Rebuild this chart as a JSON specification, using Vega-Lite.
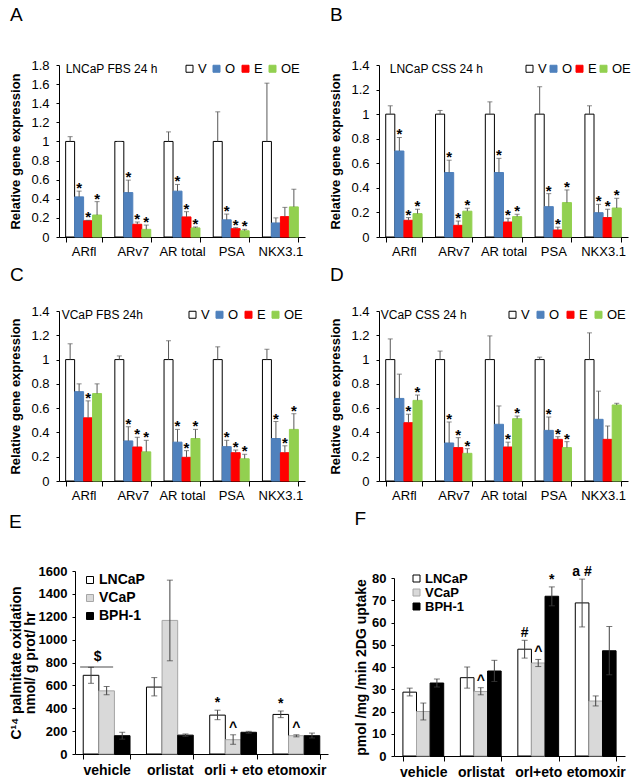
{
  "$schema": "https://vega.github.io/schema/vega-lite/v6.json",
  "background": "white",
  "padding": {"left": 9, "top": 6, "right": 2, "bottom": 2},
  "config": {
    "font": "Liberation Sans",
    "view": {"stroke": null},
    "axis": {"domainColor": "#000", "tickColor": "#000", "labelColor": "#000", "titleColor": "#000", "grid": false, "labelFont": "Liberation Sans", "titleFont": "Liberation Sans", "labelFontSize": 13, "titleFontSize": 13, "titleFontWeight": "bold", "labelOverlap": false},
    "axisX": {"labelAngle": 0, "tickBand": "extent", "tickSize": 5, "labelPadding": 3, "title": null},
    "axisY": {"tickSize": 3, "labelPadding": 7, "titlePadding": 8},
    "title": {"anchor": "start", "fontSize": 19, "fontWeight": "normal", "frame": "bounds", "color": "#000", "font": "Liberation Sans"},
    "legend": {"orient": "none", "symbolType": "square", "labelColor": "#000", "padding": 0, "symbolStrokeWidth": 1, "labelFont": "Liberation Sans"},
    "text": {"color": "#000"}
  },
  "datasets": {
    "A": [
      {"g":"ARfl","s":"V","v":1,"hi":1.05,"sig":""},
      {"g":"ARfl","s":"O","v":0.42,"hi":0.48,"sig":"*"},
      {"g":"ARfl","s":"E","v":0.17,"hi":0.175,"sig":"*"},
      {"g":"ARfl","s":"OE","v":0.23,"hi":0.37,"sig":"*"},
      {"g":"ARv7","s":"V","v":1,"hi":1.0,"sig":""},
      {"g":"ARv7","s":"O","v":0.465,"hi":0.595,"sig":"*"},
      {"g":"ARv7","s":"E","v":0.133,"hi":0.157,"sig":"*"},
      {"g":"ARv7","s":"OE","v":0.08,"hi":0.125,"sig":"*"},
      {"g":"AR total","s":"V","v":1,"hi":1.1,"sig":""},
      {"g":"AR total","s":"O","v":0.48,"hi":0.55,"sig":"*"},
      {"g":"AR total","s":"E","v":0.21,"hi":0.265,"sig":"*"},
      {"g":"AR total","s":"OE","v":0.095,"hi":0.105,"sig":"*"},
      {"g":"PSA","s":"V","v":1,"hi":1.31,"sig":""},
      {"g":"PSA","s":"O","v":0.18,"hi":0.24,"sig":"*"},
      {"g":"PSA","s":"E","v":0.087,"hi":0.098,"sig":"*"},
      {"g":"PSA","s":"OE","v":0.065,"hi":0.08,"sig":"*"},
      {"g":"NKX3.1","s":"V","v":1,"hi":1.61,"sig":""},
      {"g":"NKX3.1","s":"O","v":0.147,"hi":0.2,"sig":""},
      {"g":"NKX3.1","s":"E","v":0.213,"hi":0.31,"sig":""},
      {"g":"NKX3.1","s":"OE","v":0.315,"hi":0.5,"sig":""}
    ],
    "B": [
      {"g":"ARfl","s":"V","v":1,"hi":1.068,"sig":""},
      {"g":"ARfl","s":"O","v":0.7,"hi":0.81,"sig":"*"},
      {"g":"ARfl","s":"E","v":0.136,"hi":0.158,"sig":"*"},
      {"g":"ARfl","s":"OE","v":0.19,"hi":0.226,"sig":"*"},
      {"g":"ARv7","s":"V","v":1,"hi":1.03,"sig":""},
      {"g":"ARv7","s":"O","v":0.525,"hi":0.625,"sig":"*"},
      {"g":"ARv7","s":"E","v":0.095,"hi":0.13,"sig":"*"},
      {"g":"ARv7","s":"OE","v":0.21,"hi":0.234,"sig":"*"},
      {"g":"AR total","s":"V","v":1,"hi":1.1,"sig":""},
      {"g":"AR total","s":"O","v":0.525,"hi":0.64,"sig":"*"},
      {"g":"AR total","s":"E","v":0.122,"hi":0.152,"sig":"*"},
      {"g":"AR total","s":"OE","v":0.166,"hi":0.185,"sig":"*"},
      {"g":"PSA","s":"V","v":1,"hi":1.223,"sig":""},
      {"g":"PSA","s":"O","v":0.247,"hi":0.353,"sig":"*"},
      {"g":"PSA","s":"E","v":0.057,"hi":0.08,"sig":"*"},
      {"g":"PSA","s":"OE","v":0.28,"hi":0.383,"sig":"*"},
      {"g":"NKX3.1","s":"V","v":1,"hi":1.068,"sig":""},
      {"g":"NKX3.1","s":"O","v":0.198,"hi":0.266,"sig":"*"},
      {"g":"NKX3.1","s":"E","v":0.158,"hi":0.226,"sig":"*"},
      {"g":"NKX3.1","s":"OE","v":0.236,"hi":0.315,"sig":"*"}
    ],
    "C": [
      {"g":"ARfl","s":"V","v":1,"hi":1.13,"sig":""},
      {"g":"ARfl","s":"O","v":0.736,"hi":0.8,"sig":""},
      {"g":"ARfl","s":"E","v":0.52,"hi":0.66,"sig":"*"},
      {"g":"ARfl","s":"OE","v":0.72,"hi":0.8,"sig":""},
      {"g":"ARv7","s":"V","v":1,"hi":1.03,"sig":""},
      {"g":"ARv7","s":"O","v":0.33,"hi":0.447,"sig":"*"},
      {"g":"ARv7","s":"E","v":0.28,"hi":0.36,"sig":"*"},
      {"g":"ARv7","s":"OE","v":0.24,"hi":0.335,"sig":"*"},
      {"g":"AR total","s":"V","v":1,"hi":1.155,"sig":""},
      {"g":"AR total","s":"O","v":0.32,"hi":0.425,"sig":"*"},
      {"g":"AR total","s":"E","v":0.195,"hi":0.25,"sig":"*"},
      {"g":"AR total","s":"OE","v":0.35,"hi":0.425,"sig":"*"},
      {"g":"PSA","s":"V","v":1,"hi":1.105,"sig":""},
      {"g":"PSA","s":"O","v":0.283,"hi":0.335,"sig":"*"},
      {"g":"PSA","s":"E","v":0.233,"hi":0.255,"sig":"*"},
      {"g":"PSA","s":"OE","v":0.183,"hi":0.22,"sig":"*"},
      {"g":"NKX3.1","s":"V","v":1,"hi":1.085,"sig":""},
      {"g":"NKX3.1","s":"O","v":0.35,"hi":0.49,"sig":"*"},
      {"g":"NKX3.1","s":"E","v":0.233,"hi":0.29,"sig":"*"},
      {"g":"NKX3.1","s":"OE","v":0.425,"hi":0.554,"sig":"*"}
    ],
    "D": [
      {"g":"ARfl","s":"V","v":1,"hi":1.17,"sig":""},
      {"g":"ARfl","s":"O","v":0.68,"hi":0.88,"sig":""},
      {"g":"ARfl","s":"E","v":0.48,"hi":0.55,"sig":"*"},
      {"g":"ARfl","s":"OE","v":0.664,"hi":0.708,"sig":"*"},
      {"g":"ARv7","s":"V","v":1,"hi":1.07,"sig":""},
      {"g":"ARv7","s":"O","v":0.313,"hi":0.486,"sig":"*"},
      {"g":"ARv7","s":"E","v":0.275,"hi":0.357,"sig":"*"},
      {"g":"ARv7","s":"OE","v":0.228,"hi":0.266,"sig":"*"},
      {"g":"AR total","s":"V","v":1,"hi":1.195,"sig":""},
      {"g":"AR total","s":"O","v":0.467,"hi":0.618,"sig":""},
      {"g":"AR total","s":"E","v":0.28,"hi":0.32,"sig":"*"},
      {"g":"AR total","s":"OE","v":0.513,"hi":0.535,"sig":"*"},
      {"g":"PSA","s":"V","v":1,"hi":1.02,"sig":""},
      {"g":"PSA","s":"O","v":0.417,"hi":0.527,"sig":"*"},
      {"g":"PSA","s":"E","v":0.343,"hi":0.365,"sig":"*"},
      {"g":"PSA","s":"OE","v":0.275,"hi":0.324,"sig":"*"},
      {"g":"NKX3.1","s":"V","v":1,"hi":1.22,"sig":""},
      {"g":"NKX3.1","s":"O","v":0.508,"hi":0.74,"sig":""},
      {"g":"NKX3.1","s":"E","v":0.343,"hi":0.453,"sig":""},
      {"g":"NKX3.1","s":"OE","v":0.626,"hi":0.64,"sig":""}
    ],
    "E": [
      {"g":"vehicle","s":"LNCaP","v":688,"lo":618,"hi":758,"sig":""},
      {"g":"vehicle","s":"VCaP","v":552,"lo":518,"hi":590,"sig":""},
      {"g":"vehicle","s":"BPH-1","v":160,"lo":130,"hi":190,"sig":""},
      {"g":"orlistat","s":"LNCaP","v":585,"lo":508,"hi":668,"sig":""},
      {"g":"orlistat","s":"VCaP","v":1168,"lo":815,"hi":1520,"sig":""},
      {"g":"orlistat","s":"BPH-1","v":165,"lo":155,"hi":175,"sig":""},
      {"g":"orli + eto","s":"LNCaP","v":340,"lo":300,"hi":383,"sig":"*"},
      {"g":"orli + eto","s":"VCaP","v":125,"lo":85,"hi":168,"sig":"^"},
      {"g":"orli + eto","s":"BPH-1","v":190,"lo":182,"hi":198,"sig":""},
      {"g":"etomoxir","s":"LNCaP","v":346,"lo":318,"hi":376,"sig":"*"},
      {"g":"etomoxir","s":"VCaP","v":160,"lo":150,"hi":168,"sig":"^"},
      {"g":"etomoxir","s":"BPH-1","v":160,"lo":140,"hi":183,"sig":""}
    ],
    "Esig": [
      {"g":"vehicle","v":760,"t":"$"}
    ],
    "F": [
      {"g":"vehicle","s":"LNCaP","v":28.7,"lo":27,"hi":30.5,"sig":""},
      {"g":"vehicle","s":"VCaP","v":20,"lo":16.2,"hi":23.8,"sig":""},
      {"g":"vehicle","s":"BPH-1","v":32.8,"lo":31,"hi":34.6,"sig":""},
      {"g":"orlistat","s":"LNCaP","v":35.2,"lo":30.5,"hi":40,"sig":""},
      {"g":"orlistat","s":"VCaP","v":29,"lo":27.5,"hi":30.7,"sig":"^"},
      {"g":"orlistat","s":"BPH-1","v":38.2,"lo":33.5,"hi":43,"sig":""},
      {"g":"orl+eto","s":"LNCaP","v":48,"lo":44,"hi":52,"sig":"#"},
      {"g":"orl+eto","s":"VCaP","v":41.8,"lo":40.2,"hi":43.4,"sig":"^"},
      {"g":"orl+eto","s":"BPH-1","v":71.8,"lo":67.5,"hi":76,"sig":"*"},
      {"g":"etomoxir","s":"LNCaP","v":68.8,"lo":58,"hi":79.5,"sig":"a #"},
      {"g":"etomoxir","s":"VCaP","v":24.7,"lo":22.5,"hi":27,"sig":""},
      {"g":"etomoxir","s":"BPH-1","v":47.3,"lo":36.5,"hi":58.2,"sig":""}
    ]
  },
  "resolve": {"scale": {"x": "independent", "y": "independent", "xOffset": "independent", "fill": "independent", "stroke": "independent"}, "legend": {"fill": "independent", "stroke": "independent"}, "axis": {"x": "independent", "y": "independent"}},
  "columns": 2,
  "align": "each",
  "spacing": {"row": 8, "column": 1},
  "concat": [
    {
      "width": 246, "height": 172,
      "title": {"text": "A", "offset": 34},
      "layer": [
        {
          "data": {"name": "A"},
          "encoding": {
            "x": {"field": "g", "type": "nominal", "sort": ["ARfl","ARv7","AR total","PSA","NKX3.1"], "scale": {"paddingInner": 0.27, "paddingOuter": 0.135}},
            "xOffset": {"field": "s", "sort": ["V","O","E","OE"], "scale": {"paddingInner": 0, "paddingOuter": 0}}
          },
          "layer": [
            {"mark": {"type": "bar", "strokeWidth": 1}, "encoding": {
              "y": {"field": "v", "type": "quantitative", "scale": {"domain": [0, 1.8], "nice": false}, "title": "Relative gene expression", "axis": {"values": [0,0.2,0.4,0.6,0.8,1,1.2,1.4,1.6,1.8], "format": "~g", "labelOverlap": false}},
              "fill": {"field": "s", "type": "nominal", "scale": {"domain": ["V","O","E","OE"], "range": ["#ffffff","#4F81BD","#FF0000","#92D050"]}, "legend": {"title": null, "orient": "none", "direction": "horizontal", "legendX": 124, "legendY": -3, "symbolSize": 49, "labelFontSize": 13, "columnPadding": 3, "labelOffset": 2}},
              "stroke": {"field": "s", "type": "nominal", "scale": {"domain": ["V","O","E","OE"], "range": ["#000000","#4F81BD","#FF0000","#92D050"]}, "legend": {"title": null, "orient": "none", "direction": "horizontal", "legendX": 124, "legendY": -3, "symbolSize": 49, "labelFontSize": 13, "columnPadding": 3, "labelOffset": 2}}
            }},
            {"mark": {"type": "rule", "color": "#595959"}, "encoding": {"y": {"field": "v", "type": "quantitative", "title": "Relative gene expression", "axis": {"values": [0,0.2,0.4,0.6,0.8,1,1.2,1.4,1.6,1.8], "format": "~g", "labelOverlap": false}}, "y2": {"field": "hi"}}},
            {"mark": {"type": "tick", "color": "#595959", "thickness": 1, "size": 5}, "encoding": {"y": {"field": "hi", "type": "quantitative", "title": "Relative gene expression", "axis": {"values": [0,0.2,0.4,0.6,0.8,1,1.2,1.4,1.6,1.8], "format": "~g", "labelOverlap": false}}}},
            {"transform": [{"filter": "datum.sig != ''"}], "mark": {"type": "text", "fontSize": 15, "fontWeight": "bold", "baseline": "alphabetic", "dy": 2}, "encoding": {"y": {"field": "hi", "type": "quantitative", "title": "Relative gene expression", "axis": {"values": [0,0.2,0.4,0.6,0.8,1,1.2,1.4,1.6,1.8], "format": "~g", "labelOverlap": false}}, "text": {"field": "sig"}}}
          ]
        },
        {
          "data": {"values": [{"t": "LNCaP FBS 24 h"}]},
          "mark": {"type": "text", "align": "left", "baseline": "middle", "fontSize": 12, "dy": 4},
          "encoding": {"x": {"datum": "ARfl", "bandPosition": 0}, "y": {"datum": 1.8, "type": "quantitative", "title": "Relative gene expression", "axis": {"values": [0,0.2,0.4,0.6,0.8,1,1.2,1.4,1.6,1.8], "format": "~g", "labelOverlap": false}}, "text": {"field": "t"}}
        }
      ]
    },
    {
      "width": 249, "height": 172,
      "title": {"text": "B", "offset": 34},
      "layer": [
        {
          "data": {"name": "B"},
          "encoding": {
            "x": {"field": "g", "type": "nominal", "sort": ["ARfl","ARv7","AR total","PSA","NKX3.1"], "scale": {"paddingInner": 0.27, "paddingOuter": 0.135}},
            "xOffset": {"field": "s", "sort": ["V","O","E","OE"], "scale": {"paddingInner": 0, "paddingOuter": 0}}
          },
          "layer": [
            {"mark": {"type": "bar", "strokeWidth": 1}, "encoding": {
              "y": {"field": "v", "type": "quantitative", "scale": {"domain": [0, 1.4], "nice": false}, "title": "Relative gene expression", "axis": {"values": [0,0.2,0.4,0.6,0.8,1,1.2,1.4], "format": "~g", "labelOverlap": false}},
              "fill": {"field": "s", "type": "nominal", "scale": {"domain": ["V","O","E","OE"], "range": ["#ffffff","#4F81BD","#FF0000","#92D050"]}, "legend": {"title": null, "orient": "none", "direction": "horizontal", "legendX": 144, "legendY": -3, "symbolSize": 49, "labelFontSize": 13, "columnPadding": 0, "labelOffset": 2}},
              "stroke": {"field": "s", "type": "nominal", "scale": {"domain": ["V","O","E","OE"], "range": ["#000000","#4F81BD","#FF0000","#92D050"]}, "legend": {"title": null, "orient": "none", "direction": "horizontal", "legendX": 144, "legendY": -3, "symbolSize": 49, "labelFontSize": 13, "columnPadding": 0, "labelOffset": 2}}
            }},
            {"mark": {"type": "rule", "color": "#595959"}, "encoding": {"y": {"field": "v", "type": "quantitative", "title": "Relative gene expression", "axis": {"values": [0,0.2,0.4,0.6,0.8,1,1.2,1.4], "format": "~g", "labelOverlap": false}}, "y2": {"field": "hi"}}},
            {"mark": {"type": "tick", "color": "#595959", "thickness": 1, "size": 5}, "encoding": {"y": {"field": "hi", "type": "quantitative", "title": "Relative gene expression", "axis": {"values": [0,0.2,0.4,0.6,0.8,1,1.2,1.4], "format": "~g", "labelOverlap": false}}}},
            {"transform": [{"filter": "datum.sig != ''"}], "mark": {"type": "text", "fontSize": 15, "fontWeight": "bold", "baseline": "alphabetic", "dy": 2}, "encoding": {"y": {"field": "hi", "type": "quantitative", "title": "Relative gene expression", "axis": {"values": [0,0.2,0.4,0.6,0.8,1,1.2,1.4], "format": "~g", "labelOverlap": false}}, "text": {"field": "sig"}}}
          ]
        },
        {
          "data": {"values": [{"t": "LNCaP  CSS 24 h"}]},
          "mark": {"type": "text", "align": "left", "baseline": "middle", "fontSize": 12, "dy": 4, "dx": 4},
          "encoding": {"x": {"datum": "ARfl", "bandPosition": 0}, "y": {"datum": 1.4, "type": "quantitative", "title": "Relative gene expression", "axis": {"values": [0,0.2,0.4,0.6,0.8,1,1.2,1.4], "format": "~g", "labelOverlap": false}}, "text": {"field": "t"}}
        }
      ]
    },
    {
      "width": 246, "height": 170,
      "title": {"text": "C", "offset": 20},
      "layer": [
        {
          "data": {"name": "C"},
          "encoding": {
            "x": {"field": "g", "type": "nominal", "sort": ["ARfl","ARv7","AR total","PSA","NKX3.1"], "scale": {"paddingInner": 0.27, "paddingOuter": 0.135}},
            "xOffset": {"field": "s", "sort": ["V","O","E","OE"], "scale": {"paddingInner": 0, "paddingOuter": 0}}
          },
          "layer": [
            {"mark": {"type": "bar", "strokeWidth": 1}, "encoding": {
              "y": {"field": "v", "type": "quantitative", "scale": {"domain": [0, 1.4], "nice": false}, "title": "Relative gene expression", "axis": {"values": [0,0.2,0.4,0.6,0.8,1,1.2,1.4], "format": "~g", "labelOverlap": false}},
              "fill": {"field": "s", "type": "nominal", "scale": {"domain": ["V","O","E","OE"], "range": ["#ffffff","#4F81BD","#FF0000","#92D050"]}, "legend": {"title": null, "orient": "none", "direction": "horizontal", "legendX": 127, "legendY": -3, "symbolSize": 49, "labelFontSize": 13, "columnPadding": 3, "labelOffset": 2}},
              "stroke": {"field": "s", "type": "nominal", "scale": {"domain": ["V","O","E","OE"], "range": ["#000000","#4F81BD","#FF0000","#92D050"]}, "legend": {"title": null, "orient": "none", "direction": "horizontal", "legendX": 127, "legendY": -3, "symbolSize": 49, "labelFontSize": 13, "columnPadding": 3, "labelOffset": 2}}
            }},
            {"mark": {"type": "rule", "color": "#595959"}, "encoding": {"y": {"field": "v", "type": "quantitative", "title": "Relative gene expression", "axis": {"values": [0,0.2,0.4,0.6,0.8,1,1.2,1.4], "format": "~g", "labelOverlap": false}}, "y2": {"field": "hi"}}},
            {"mark": {"type": "tick", "color": "#595959", "thickness": 1, "size": 5}, "encoding": {"y": {"field": "hi", "type": "quantitative", "title": "Relative gene expression", "axis": {"values": [0,0.2,0.4,0.6,0.8,1,1.2,1.4], "format": "~g", "labelOverlap": false}}}},
            {"transform": [{"filter": "datum.sig != ''"}], "mark": {"type": "text", "fontSize": 15, "fontWeight": "bold", "baseline": "alphabetic", "dy": 2}, "encoding": {"y": {"field": "hi", "type": "quantitative", "title": "Relative gene expression", "axis": {"values": [0,0.2,0.4,0.6,0.8,1,1.2,1.4], "format": "~g", "labelOverlap": false}}, "text": {"field": "sig"}}}
          ]
        },
        {
          "data": {"values": [{"t": "VCaP FBS 24h"}]},
          "mark": {"type": "text", "align": "left", "baseline": "middle", "fontSize": 12, "dy": 4, "dx": -4},
          "encoding": {"x": {"datum": "ARfl", "bandPosition": 0}, "y": {"datum": 1.4, "type": "quantitative", "title": "Relative gene expression", "axis": {"values": [0,0.2,0.4,0.6,0.8,1,1.2,1.4], "format": "~g", "labelOverlap": false}}, "text": {"field": "t"}}
        }
      ]
    },
    {
      "width": 249, "height": 170,
      "title": {"text": "D", "offset": 20},
      "layer": [
        {
          "data": {"name": "D"},
          "encoding": {
            "x": {"field": "g", "type": "nominal", "sort": ["ARfl","ARv7","AR total","PSA","NKX3.1"], "scale": {"paddingInner": 0.27, "paddingOuter": 0.135}},
            "xOffset": {"field": "s", "sort": ["V","O","E","OE"], "scale": {"paddingInner": 0, "paddingOuter": 0}}
          },
          "layer": [
            {"mark": {"type": "bar", "strokeWidth": 1}, "encoding": {
              "y": {"field": "v", "type": "quantitative", "scale": {"domain": [0, 1.4], "nice": false}, "title": "Relative gene expression", "axis": {"values": [0,0.2,0.4,0.6,0.8,1,1.2,1.4], "format": "~g", "labelOverlap": false}},
              "fill": {"field": "s", "type": "nominal", "scale": {"domain": ["V","O","E","OE"], "range": ["#ffffff","#4F81BD","#FF0000","#92D050"]}, "legend": {"title": null, "orient": "none", "direction": "horizontal", "legendX": 127, "legendY": -3, "symbolSize": 49, "labelFontSize": 13, "columnPadding": 4, "labelOffset": 2}},
              "stroke": {"field": "s", "type": "nominal", "scale": {"domain": ["V","O","E","OE"], "range": ["#000000","#4F81BD","#FF0000","#92D050"]}, "legend": {"title": null, "orient": "none", "direction": "horizontal", "legendX": 127, "legendY": -3, "symbolSize": 49, "labelFontSize": 13, "columnPadding": 4, "labelOffset": 2}}
            }},
            {"mark": {"type": "rule", "color": "#595959"}, "encoding": {"y": {"field": "v", "type": "quantitative", "title": "Relative gene expression", "axis": {"values": [0,0.2,0.4,0.6,0.8,1,1.2,1.4], "format": "~g", "labelOverlap": false}}, "y2": {"field": "hi"}}},
            {"mark": {"type": "tick", "color": "#595959", "thickness": 1, "size": 5}, "encoding": {"y": {"field": "hi", "type": "quantitative", "title": "Relative gene expression", "axis": {"values": [0,0.2,0.4,0.6,0.8,1,1.2,1.4], "format": "~g", "labelOverlap": false}}}},
            {"transform": [{"filter": "datum.sig != ''"}], "mark": {"type": "text", "fontSize": 15, "fontWeight": "bold", "baseline": "alphabetic", "dy": 2}, "encoding": {"y": {"field": "hi", "type": "quantitative", "title": "Relative gene expression", "axis": {"values": [0,0.2,0.4,0.6,0.8,1,1.2,1.4], "format": "~g", "labelOverlap": false}}, "text": {"field": "sig"}}}
          ]
        },
        {
          "data": {"values": [{"t": "VCaP CSS 24 h"}]},
          "mark": {"type": "text", "align": "left", "baseline": "middle", "fontSize": 12, "dy": 4, "dx": -5},
          "encoding": {"x": {"datum": "ARfl", "bandPosition": 0}, "y": {"datum": 1.4, "type": "quantitative", "title": "Relative gene expression", "axis": {"values": [0,0.2,0.4,0.6,0.8,1,1.2,1.4], "format": "~g", "labelOverlap": false}}, "text": {"field": "t"}}
        }
      ]
    },
    {
      "width": 269, "height": 183,
      "title": {"text": "E", "offset": 33},
      "layer": [
        {
          "data": {"name": "E"},
          "encoding": {
            "x": {"field": "g", "type": "nominal", "sort": ["vehicle","orlistat","orli + eto","etomoxir"], "scale": {"paddingInner": 0.26, "paddingOuter": 0.13, "range": [16, 269]}, "axis": {"labelFontWeight": "bold", "labelFontSize": 14, "labelPadding": 4}},
            "xOffset": {"field": "s", "sort": ["LNCaP","VCaP","BPH-1"], "scale": {"paddingInner": 0, "paddingOuter": 0}}
          },
          "layer": [
            {"mark": {"type": "bar", "strokeWidth": 1}, "encoding": {
              "y": {"field": "v", "type": "quantitative", "scale": {"domain": [0, 1600], "nice": false}, "title": ["C¹⁴ palmitate oxidation", "nmol/ g prot/ hr"], "axis": {"values": [0,200,400,600,800,1000,1200,1400,1600], "format": "d", "labelOverlap": false, "labelFontWeight": "bold", "labelPadding": 5, "titleFontSize": 14, "titleLineHeight": 14, "titlePadding": 1, "offset": -16}},
              "fill": {"field": "s", "type": "nominal", "scale": {"domain": ["LNCaP","VCaP","BPH-1"], "range": ["#ffffff","#D9D9D9","#000000"]}, "legend": {"title": null, "orient": "none", "direction": "vertical", "legendX": 24, "legendY": 2, "symbolSize": 49, "labelFontSize": 14, "labelFontWeight": "bold", "rowPadding": 4, "labelOffset": 2}},
              "stroke": {"field": "s", "type": "nominal", "scale": {"domain": ["LNCaP","VCaP","BPH-1"], "range": ["#000000","#A6A6A6","#000000"]}, "legend": {"title": null, "orient": "none", "direction": "vertical", "legendX": 24, "legendY": 2, "symbolSize": 49, "labelFontSize": 14, "labelFontWeight": "bold", "rowPadding": 4, "labelOffset": 2}}
            }},
            {"mark": {"type": "rule", "color": "#404040"}, "encoding": {"y": {"field": "lo", "type": "quantitative", "title": ["C¹⁴ palmitate oxidation", "nmol/ g prot/ hr"], "axis": {"values": [0,200,400,600,800,1000,1200,1400,1600], "format": "d", "labelOverlap": false, "labelFontWeight": "bold", "labelPadding": 5, "titleFontSize": 14, "titleLineHeight": 14, "titlePadding": 1, "offset": -16}}, "y2": {"field": "hi"}}},
            {"mark": {"type": "tick", "color": "#404040", "thickness": 1, "size": 6}, "encoding": {"y": {"field": "hi", "type": "quantitative", "title": ["C¹⁴ palmitate oxidation", "nmol/ g prot/ hr"], "axis": {"values": [0,200,400,600,800,1000,1200,1400,1600], "format": "d", "labelOverlap": false, "labelFontWeight": "bold", "labelPadding": 5, "titleFontSize": 14, "titleLineHeight": 14, "titlePadding": 1, "offset": -16}}}},
            {"mark": {"type": "tick", "color": "#404040", "thickness": 1, "size": 6}, "encoding": {"y": {"field": "lo", "type": "quantitative", "title": ["C¹⁴ palmitate oxidation", "nmol/ g prot/ hr"], "axis": {"values": [0,200,400,600,800,1000,1200,1400,1600], "format": "d", "labelOverlap": false, "labelFontWeight": "bold", "labelPadding": 5, "titleFontSize": 14, "titleLineHeight": 14, "titlePadding": 1, "offset": -16}}}},
            {"transform": [{"filter": "datum.sig != ''"}], "mark": {"type": "text", "fontSize": 14, "fontWeight": "bold", "baseline": "alphabetic", "dy": -3}, "encoding": {"y": {"field": "hi", "type": "quantitative", "title": ["C¹⁴ palmitate oxidation", "nmol/ g prot/ hr"], "axis": {"values": [0,200,400,600,800,1000,1200,1400,1600], "format": "d", "labelOverlap": false, "labelFontWeight": "bold", "labelPadding": 5, "titleFontSize": 14, "titleLineHeight": 14, "titlePadding": 1, "offset": -16}}, "text": {"field": "sig"}}}
          ]
        },
        {
          "data": {"name": "Esig"},
          "mark": {"type": "tick", "size": 33, "thickness": 1, "color": "#000", "xOffset": -10},
          "encoding": {"x": {"field": "g", "type": "nominal", "sort": ["vehicle","orlistat","orli + eto","etomoxir"]}, "y": {"field": "v", "type": "quantitative", "title": ["C¹⁴ palmitate oxidation", "nmol/ g prot/ hr"], "axis": {"values": [0,200,400,600,800,1000,1200,1400,1600], "format": "d", "labelOverlap": false, "labelFontWeight": "bold", "labelPadding": 5, "titleFontSize": 14, "titleLineHeight": 14, "titlePadding": 1, "offset": -16}}}
        },
        {
          "data": {"name": "Esig"},
          "mark": {"type": "text", "fontSize": 14, "fontWeight": "bold", "baseline": "alphabetic", "dx": -9, "dy": -6},
          "encoding": {"x": {"field": "g", "type": "nominal", "sort": ["vehicle","orlistat","orli + eto","etomoxir"]}, "y": {"field": "v", "type": "quantitative", "title": ["C¹⁴ palmitate oxidation", "nmol/ g prot/ hr"], "axis": {"values": [0,200,400,600,800,1000,1200,1400,1600], "format": "d", "labelOverlap": false, "labelFontWeight": "bold", "labelPadding": 5, "titleFontSize": 14, "titleLineHeight": 14, "titlePadding": 1, "offset": -16}}, "text": {"field": "t"}}
        }
      ]
    },
    {
      "width": 246, "height": 185,
      "title": {"text": "F", "offset": 36},
      "layer": [
        {
          "data": {"name": "F"},
          "encoding": {
            "x": {"field": "g", "type": "nominal", "sort": ["vehicle","orlistat","orl+eto","etomoxir"], "scale": {"paddingInner": 0.29, "paddingOuter": 0.155, "range": [15, 246]}, "axis": {"labelFontWeight": "bold", "labelFontSize": 14, "labelPadding": 4}},
            "xOffset": {"field": "s", "sort": ["LNCaP","VCaP","BPH-1"], "scale": {"paddingInner": 0, "paddingOuter": 0}}
          },
          "layer": [
            {"mark": {"type": "bar", "strokeWidth": 1}, "encoding": {
              "y": {"field": "v", "type": "quantitative", "scale": {"domain": [0, 80], "nice": false, "range": [185, 7]}, "title": "pmol /mg /min 2DG uptake", "axis": {"values": [0,10,20,30,40,50,60,70,80], "labelOverlap": false, "labelFontWeight": "bold", "labelPadding": 5, "titleFontSize": 14, "titlePadding": 3, "offset": -15}},
              "fill": {"field": "s", "type": "nominal", "scale": {"domain": ["LNCaP","VCaP","BPH-1"], "range": ["#ffffff","#D9D9D9","#000000"]}, "legend": {"title": null, "orient": "none", "direction": "vertical", "legendX": 31, "legendY": 1, "symbolSize": 49, "labelFontSize": 13, "labelFontWeight": "bold", "rowPadding": -2, "labelOffset": 2}},
              "stroke": {"field": "s", "type": "nominal", "scale": {"domain": ["LNCaP","VCaP","BPH-1"], "range": ["#000000","#A6A6A6","#000000"]}, "legend": {"title": null, "orient": "none", "direction": "vertical", "legendX": 31, "legendY": 1, "symbolSize": 49, "labelFontSize": 13, "labelFontWeight": "bold", "rowPadding": -2, "labelOffset": 2}}
            }},
            {"mark": {"type": "rule", "color": "#404040"}, "encoding": {"y": {"field": "lo", "type": "quantitative", "title": "pmol /mg /min 2DG uptake", "axis": {"values": [0,10,20,30,40,50,60,70,80], "labelOverlap": false, "labelFontWeight": "bold", "labelPadding": 5, "titleFontSize": 14, "titlePadding": 3, "offset": -15}}, "y2": {"field": "hi"}}},
            {"mark": {"type": "tick", "color": "#404040", "thickness": 1, "size": 6}, "encoding": {"y": {"field": "hi", "type": "quantitative", "title": "pmol /mg /min 2DG uptake", "axis": {"values": [0,10,20,30,40,50,60,70,80], "labelOverlap": false, "labelFontWeight": "bold", "labelPadding": 5, "titleFontSize": 14, "titlePadding": 3, "offset": -15}}}},
            {"mark": {"type": "tick", "color": "#404040", "thickness": 1, "size": 6}, "encoding": {"y": {"field": "lo", "type": "quantitative", "title": "pmol /mg /min 2DG uptake", "axis": {"values": [0,10,20,30,40,50,60,70,80], "labelOverlap": false, "labelFontWeight": "bold", "labelPadding": 5, "titleFontSize": 14, "titlePadding": 3, "offset": -15}}}},
            {"transform": [{"filter": "datum.sig != ''"}], "mark": {"type": "text", "fontSize": 14, "fontWeight": "bold", "baseline": "alphabetic", "dy": -3}, "encoding": {"y": {"field": "hi", "type": "quantitative", "title": "pmol /mg /min 2DG uptake", "axis": {"values": [0,10,20,30,40,50,60,70,80], "labelOverlap": false, "labelFontWeight": "bold", "labelPadding": 5, "titleFontSize": 14, "titlePadding": 3, "offset": -15}}, "text": {"field": "sig"}}}
          ]
        }
      ]
    }
  ]
}
